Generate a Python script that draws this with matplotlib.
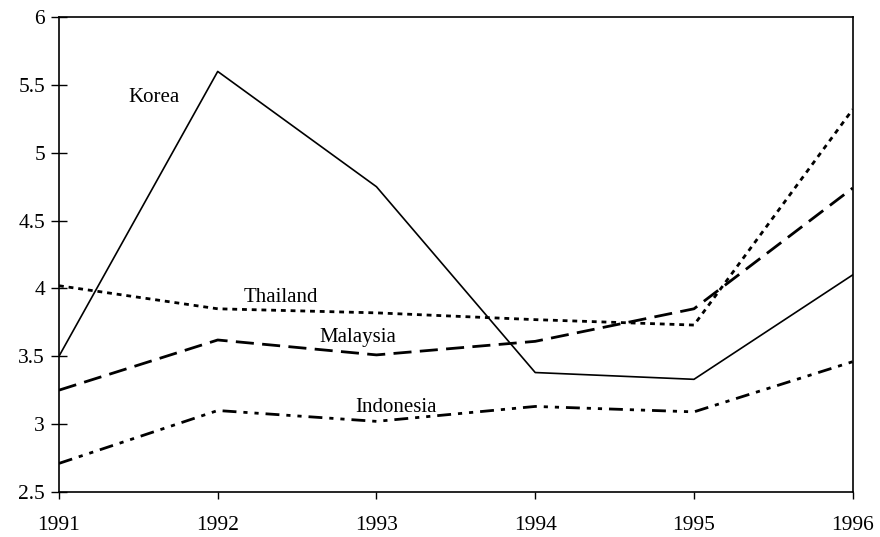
import matplotlib
matplotlib.use('Agg')
import matplotlib.pyplot as plt

years = [1991, 1992, 1993, 1994, 1995, 1996]
korea = [3.50, 5.60, 4.75, 3.38, 3.33, 4.10]
thailand = [4.02, 3.85, 3.82, 3.77, 3.73, 5.32]
malaysia = [3.25, 3.62, 3.51, 3.61, 3.85, 4.74]
indonesia = [2.71, 3.10, 3.02, 3.13, 3.09, 3.46]

y_ticks = [2.5, 3, 3.5, 4, 4.5, 5, 5.5, 6]
y_tick_labels = ['2.5', '3', '3.5', '4', '4.5', '5', '5.5', '6']

plt.rcParams['font.family'] = ['Liberation Serif', 'DejaVu Serif']
plt.rcParams['lines.scale_dashes'] = False

fig = plt.figure(figsize=(8.8, 5.37), dpi=100)
ax = fig.add_axes([0.067, 0.084, 0.902, 0.884])

ax.plot(years, korea, color='black', lw=1.2, linestyle='-')
ax.plot(years, thailand, color='black', lw=2.0, linestyle=(0, (3.5, 3.5)))
ax.plot(years, malaysia, color='black', lw=2.0, linestyle=(0, (13, 6)))
ax.plot(years, indonesia, color='black', lw=2.0,
        linestyle=(0, (10, 5, 3, 5, 3, 5)))

# series labels
ax.text(1991.6, 5.41, 'Korea', fontsize=15, ha='center', va='center')
ax.text(1992.4, 3.93, 'Thailand', fontsize=15, ha='center', va='center')
ax.text(1992.88, 3.64, 'Malaysia', fontsize=15, ha='center', va='center')
ax.text(1993.12, 3.12, 'Indonesia', fontsize=15, ha='center', va='center')

ax.set_xlim(1991, 1996)
ax.set_ylim(2.5, 6)
ax.set_xticks(years)
ax.set_xticklabels([str(y) for y in years])
ax.set_yticks(y_ticks)
ax.set_yticklabels(y_tick_labels)

for s in ax.spines.values():
    s.set_linewidth(1.2)
ax.tick_params(axis='y', direction='inout', length=12, width=1.0,
               labelsize=15.5, pad=4)
ax.tick_params(axis='x', direction='out', length=5, width=1.0,
               labelsize=15.5, pad=12)

fig.savefig('out.png', dpi=100)
